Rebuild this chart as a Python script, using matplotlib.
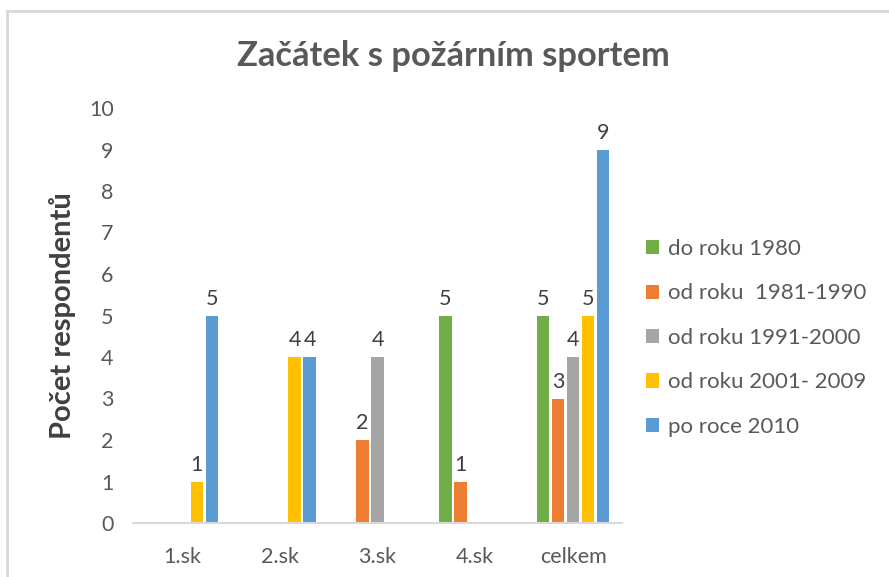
import matplotlib
matplotlib.use("Agg")
import matplotlib.pyplot as plt
from matplotlib.patches import Patch
from matplotlib.lines import Line2D
import numpy as np

plt.rcParams['font.family'] = ['Lato', 'DejaVu Sans']

categories = ["1.sk", "2.sk", "3.sk", "4.sk", "celkem"]
series_names = ["do roku 1980", "od roku  1981-1990", "od roku 1991-2000",
                "od roku 2001- 2009", "po roce 2010"]
do_1980 = [0, 0, 0, 5, 5]
od_1981_1990 = [0, 0, 2, 1, 3]
od_1991_2000 = [0, 0, 4, 0, 4]
od_2001_2009 = [1, 4, 0, 0, 5]
po_2010 = [5, 4, 0, 0, 9]
series_values = [do_1980, od_1981_1990, od_1991_2000, od_2001_2009, po_2010]
colors = ["#70AD47", "#ED7D31", "#A5A5A5", "#FFC000", "#5B9BD5"]
yticks = list(range(0, 11))

W, H = 889, 577
fig = plt.figure(figsize=(W / 100, H / 100), dpi=100)
ax = fig.add_axes([133 / W, 1 - 523 / H, (622 - 133) / W, (523 - 108) / H])

x = np.arange(len(categories))
step = 0.153
width = 0.128
text_color = "#595959"
for i, (vals, col) in enumerate(zip(series_values, colors)):
    pos = x + (i - 2) * step
    bars = ax.bar(pos, vals, width=width, color=col, zorder=2)
    for b, v in zip(bars, vals):
        if v:
            ax.annotate(str(v), (b.get_x() + b.get_width() / 2, v),
                        xytext=(0, 5), textcoords="offset points",
                        ha="center", va="bottom", fontsize=15.5, color="#404040")

ax.set_xlim(-0.5, len(categories) - 0.5)
ax.set_ylim(0, 10)
ax.set_yticks(yticks)
ax.set_xticks(x)
ax.set_xticklabels(categories)
for s in ["top", "right", "left"]:
    ax.spines[s].set_visible(False)
ax.spines["bottom"].set_color("#D9D9D9")
ax.spines["bottom"].set_linewidth(1.5)
ax.tick_params(axis="both", length=0, labelsize=15.5, colors=text_color)
ax.tick_params(axis="y", pad=14)
ax.tick_params(axis="x", pad=17)
ax.set_ylabel("Počet respondentů", fontsize=21, fontweight="bold",
              color="#404040", labelpad=9)

fig.text(453 / W, 1 - 56 / H, "Začátek s požárním sportem", ha="center",
         va="center", fontsize=24.8, fontweight="bold", color=text_color)

handles = [Patch(facecolor=c, edgecolor="none") for c in colors]
fig.legend(handles, series_names, loc="upper left",
           bbox_to_anchor=(626 / W, 1 - 219 / H), frameon=False,
           fontsize=16, labelcolor=text_color, handlelength=0.6,
           handleheight=0.6, handletextpad=0.4, labelspacing=1.1)

# outer border
fig.add_artist(Line2D([7 / W, 7 / W], [0, 1 - 11 / H], transform=fig.transFigure,
                      color="#D9D9D9", linewidth=2))
fig.add_artist(Line2D([7 / W, 1], [1 - 11 / H, 1 - 11 / H], transform=fig.transFigure,
                      color="#D9D9D9", linewidth=2))

fig.savefig("out.png", dpi=100)
